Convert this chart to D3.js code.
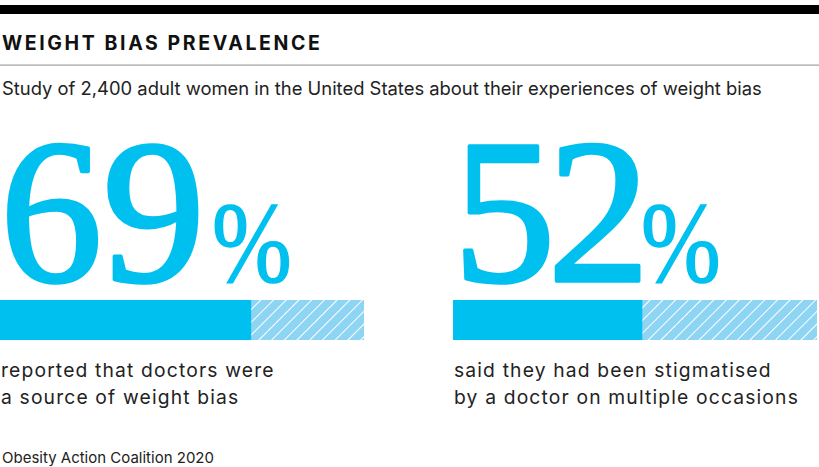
<!DOCTYPE html>
<html>
<head>
<meta charset="utf-8">
<script src="https://cdn.jsdelivr.net/npm/d3@7"></script>
<style>
html,body{margin:0;padding:0;background:#fff;}
svg{display:block;}
</style>
</head>
<body>
<svg id="chart" width="819" height="467"></svg>
<script>
const title = "WEIGHT BIAS PREVALENCE";
const subtitle = "Study of 2,400 adult women in the United States about their experiences of weight bias";
const source = "Obesity Action Coalition 2020";
const values = [69, 52];
const labels = [
  ["reported that doctors were", "a source of weight bias"],
  ["said they had been stigmatised", "by a doctor on multiple occasions"]
];

const W = 819, H = 467;
const svg = d3.select("#chart");
const blue = "#00c0ef", lightBlue = "#8ed4f3";
const sans = "Inter, 'Noto Sans', sans-serif";
const serif = "'Liberation Serif', 'DejaVu Serif', serif";
const digitSpacing = [0, -8]; // style: proportional-digit look of the original face

const defs = svg.append("defs");
const pat = defs.append("pattern").attr("id", "hatch").attr("patternUnits", "userSpaceOnUse")
  .attr("width", 9).attr("height", 9).attr("patternTransform", "rotate(45)");
pat.append("rect").attr("width", 9).attr("height", 9).attr("fill", lightBlue);
pat.append("line").attr("x1", 0).attr("y1", 0).attr("x2", 0).attr("y2", 9)
  .attr("stroke", "#fff").attr("stroke-width", 2);

// header
svg.append("rect").attr("x", 0).attr("y", 5).attr("width", W).attr("height", 9).attr("fill", "#000");
svg.append("text").attr("x", 2).attr("y", 50).text(title)
  .attr("font-family", sans).attr("font-weight", 700).attr("font-size", 19.5)
  .attr("letter-spacing", 2.6).attr("fill", "#111");
svg.append("rect").attr("x", 0).attr("y", 64.5).attr("width", W).attr("height", 1.2).attr("fill", "#a0a0a0");
svg.append("text").attr("x", 2).attr("y", 95).text(subtitle)
  .attr("font-family", sans).attr("font-size", 18.4).attr("fill", "#222");

const panelX = [0, 453];
const barW = 364;
const x = d3.scaleLinear().domain([0, 100]).range([0, barW]);

values.forEach((v, i) => {
  const g = svg.append("g").attr("transform", `translate(${panelX[i]},0)`);
  const str = String(v);
  const big = g.append("text").attr("y", 281)
    .attr("font-family", serif).attr("font-size", 205).attr("fill", blue)
    .attr("stroke", blue).attr("stroke-width", 3.5).attr("stroke-linejoin", "round")
    .attr("letter-spacing", digitSpacing[i])
    .text(str);
  const bb = big.node().getBBox();
  big.attr("x", -bb.x);
  const ext = big.node().getExtentOfChar(str.length - 1);
  const px = ext.x + ext.width + digitSpacing[i] + 7;
  g.append("text").attr("transform", `translate(${px},281) scale(0.84,1)`)
    .attr("font-family", serif).attr("font-size", 114).attr("fill", blue)
    .attr("stroke", blue).attr("stroke-width", 1.6)
    .text("%");

  g.append("rect").attr("x", x(0)).attr("y", 300).attr("height", 40)
    .attr("width", x(100) - x(0)).attr("fill", "url(#hatch)");
  g.append("rect").attr("x", x(0)).attr("y", 300).attr("height", 40)
    .attr("width", x(v) - x(0)).attr("fill", blue);

  labels[i].forEach((l, j) => {
    g.append("text").attr("x", 1).attr("y", 377 + j * 26.5).text(l)
      .attr("font-family", sans).attr("font-size", 19.3).attr("letter-spacing", 1.15)
      .attr("fill", "#222");
  });
});

svg.append("text").attr("x", 2).attr("y", 463).text(source)
  .attr("font-family", sans).attr("font-size", 15).attr("fill", "#222");
</script>
</body>
</html>
